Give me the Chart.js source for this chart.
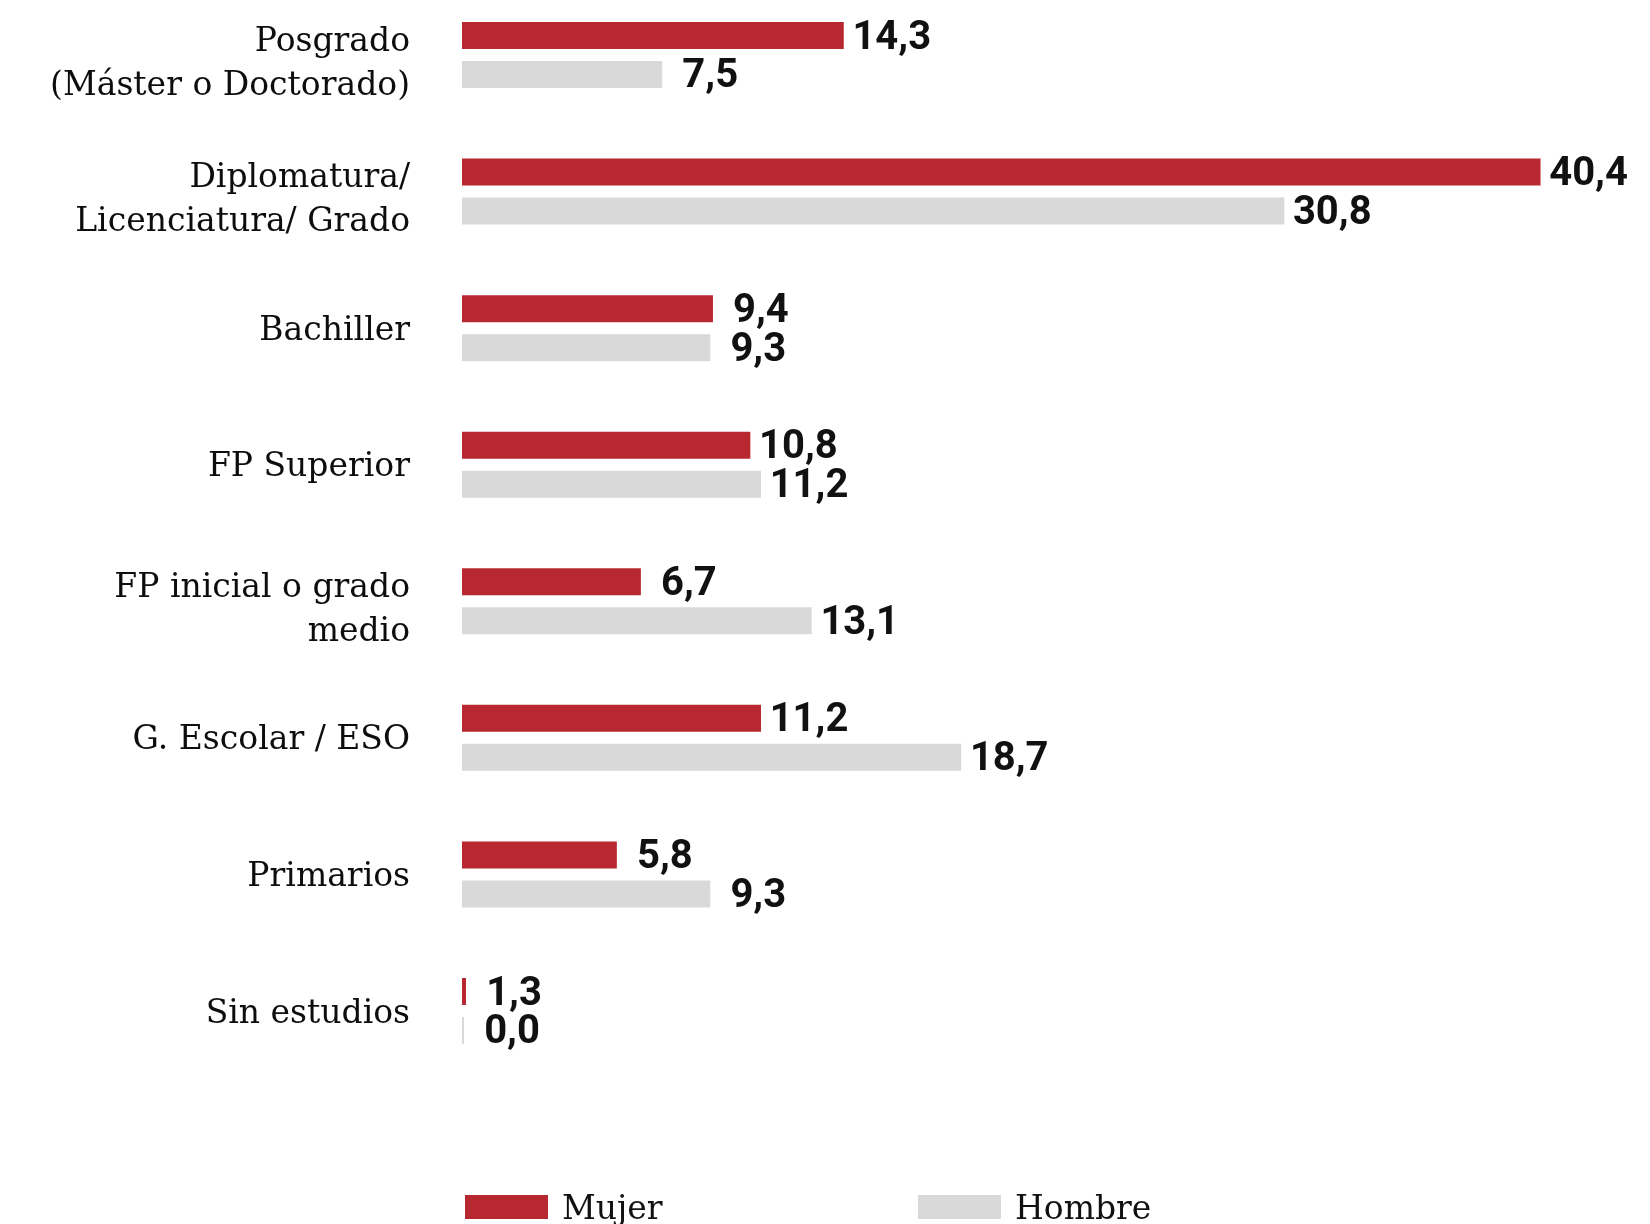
<!DOCTYPE html>
<html>
<head>
<meta charset="utf-8">
<script src="https://cdn.jsdelivr.net/npm/chart.js@4.4.1/dist/chart.umd.min.js"></script>
<style>
    html, body { margin: 0; padding: 0; background: #fff; overflow: hidden; }
    #wrap { position: relative; width: 1650px; height: 1224px; }
    #legend { position: absolute; left: 465px; top: 1190px; display: flex; font: 33px 'DejaVu Serif', serif; color: #111; }
    .legend-item { display: flex; align-items: center; height: 34px; width: 453px; }
    .legend-box { width: 83px; height: 24px; margin-right: 14px; }
</style>
</head>
<body>
<div id="wrap">
    <canvas id="chart" width="1650" height="1224"></canvas>
    <div id="legend"></div>
</div>
<script>
const categories = [
    ['Posgrado', '(Máster o Doctorado)'],
    ['Diplomatura/', 'Licenciatura/ Grado'],
    'Bachiller',
    'FP Superior',
    ['FP inicial o grado', 'medio'],
    'G. Escolar / ESO',
    'Primarios',
    'Sin estudios'
];
// bar lengths as drawn in the picture (the "Sin estudios" red bar is drawn very short)
const mujer = [14.3, 40.4, 9.4, 10.8, 6.7, 11.2, 5.8, 0.15];
const hombre = [7.5, 30.8, 9.3, 11.2, 13.1, 18.7, 9.3, 0];
// printed value labels
const mujerLabels = ['14,3', '40,4', '9,4', '10,8', '6,7', '11,2', '5,8', '1,3'];
const hombreLabels = ['7,5', '30,8', '9,3', '11,2', '13,1', '18,7', '9,3', '0,0'];

const RED = '#b72830';
const GREY = '#d9d9d9';

const valueLabels = {
    id: 'valueLabels',
    beforeDraw(chart) {
        // two-line category names sit a little low in the original
        const items = chart.scales.y.getLabelItems();
        if (items._shifted) return;
        items.forEach(item => {
            if (Array.isArray(item.label)) item.textOffset += 6;
        });
        items._shifted = true;
    },
    afterDatasetsDraw(chart) {
        const ctx = chart.ctx;
        const texts = [mujerLabels, hombreLabels];
        ctx.save();
        ctx.font = 'bold 40px Roboto';
        ctx.fillStyle = '#111';
        ctx.textAlign = 'center';
        ctx.textBaseline = 'middle';
        chart.data.datasets.forEach((ds, i) => {
            chart.getDatasetMeta(i).data.forEach((bar, j) => {
                ctx.fillText(texts[i][j], bar.x + 48, bar.y + 3);
            });
        });
        ctx.restore();
    }
};

const chart = new Chart(document.getElementById('chart'), {
    type: 'bar',
    data: {
        labels: categories,
        datasets: [
            { label: 'Mujer', data: mujer, backgroundColor: RED, clip: false },
            { label: 'Hombre', data: hombre, backgroundColor: GREY, clip: false, minBarLength: 2 }
        ]
    },
    options: {
        indexAxis: 'y',
        responsive: false,
        animation: false,
        categoryPercentage: 0.571,
        barPercentage: 0.692,
        layout: { padding: { top: 55, bottom: 213, left: 0, right: 0 } },
        scales: {
            x: { display: false, min: 0, max: 44.5 },
            y: {
                offset: false,
                grid: { display: false, drawTicks: false },
                border: { display: false },
                ticks: {
                    padding: 52,
                    labelOffset: 3,
                    color: '#0d0d0d',
                    font: { family: 'DejaVu Serif', size: 33, lineHeight: 1.33 }
                },
                afterFit(scale) {
                    scale.width = 462;
                    scale.paddingTop = 0;
                    scale.paddingBottom = 0;
                }
            }
        },
        plugins: {
            legend: { display: false },
            tooltip: { enabled: false }
        }
    },
    plugins: [valueLabels]
});

const legend = document.getElementById('legend');
chart.data.datasets.forEach(ds => {
    const item = document.createElement('div');
    item.className = 'legend-item';
    item.innerHTML = `<span class="legend-box" style="background:${ds.backgroundColor}"></span><span>${ds.label}</span>`;
    legend.appendChild(item);
});
</script>
</body>
</html>
